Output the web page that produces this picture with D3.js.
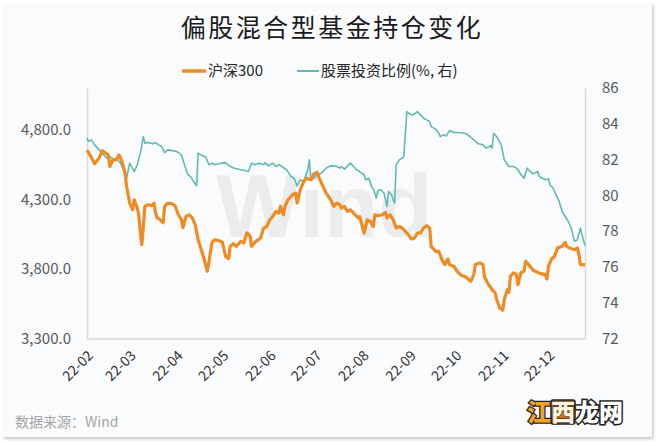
<!DOCTYPE html>
<html><head><meta charset="utf-8">
<script src="https://cdn.jsdelivr.net/npm/d3@7/dist/d3.min.js"></script>
<style>
html,body{margin:0;padding:0;background:#ffffff;}
svg{display:block;}
</style></head>
<body>
<svg id="c" width="660" height="444"></svg>
<script>
// ---------- data ----------
const hs300Dates = ["01-31","02-03","02-05","02-08","02-10","02-12","02-14","02-15","02-17","02-19","02-21","02-23","02-25","02-26","02-28",
"03-02","03-03","03-05","03-06","03-07","03-08","03-09","03-10","03-12","03-15","03-16","03-17","03-18","03-20","03-22","03-23","03-25","03-28","03-30",
"04-01","04-03","04-04","04-06","04-08","04-10","04-12","04-14","04-16","04-18","04-20","04-21","04-23","04-25","04-29","04-30",
"05-02","05-04","05-05","05-07","05-09","05-12","05-14","05-16","05-18","05-19","05-22","05-25","05-27","05-29","05-31",
"06-02","06-04","06-06","06-07","06-09","06-10","06-12","06-15","06-17","06-18","06-20","06-22","06-24","06-27","06-29",
"07-01","07-03","07-05","07-07","07-10","07-12","07-14","07-16","07-17","07-19","07-21","07-23","07-26","07-28","07-29",
"08-01","08-03","08-05","08-07","08-08","08-10","08-13","08-15","08-16","08-18","08-20","08-22","08-24","08-26","08-28","08-30",
"09-01","09-03","09-05","09-07","09-09","09-11","09-13","09-14","09-17","09-19","09-21","09-23","09-25","09-26","09-29",
"10-01","10-04","10-06","10-10","10-12","10-13","10-16","10-18","10-19","10-21","10-24","10-26","10-27","10-29","10-31",
"11-01","11-03","11-04","11-05","11-07","11-09","11-10","11-12","11-14","11-15","11-18","11-20","11-23","11-25","11-28","11-29","11-30",
"12-02","12-04","12-06","12-09","12-11","12-12","12-14","12-17","12-19","12-20","12-21","12-24"];
const hs300Values = [4655,4598,4555,4598,4650,4634,4619,4536,4584,4584,4619,4571,4490,4392,4275,
4225,4297,4239,4189,4060,3974,4105,4249,4261,4254,4273,4204,4168,4153,4132,4249,4273,4268,4249,
4189,4153,4096,4177,4189,4168,4118,4010,3938,3867,3783,3845,3988,4010,3998,3988,
3890,3874,3962,3981,3962,3998,3988,4058,4039,3962,3998,4022,4094,4105,4153,
4177,4213,4201,4249,4189,4249,4297,4333,4345,4273,4368,4421,4452,4440,4483,
4493,4440,4392,4345,4297,4249,4273,4261,4237,4249,4213,4225,4189,4166,4177,
4058,4153,4141,4105,4189,4182,4189,4206,4166,4189,4153,4094,4105,4094,4069,4046,
4015,4022,4058,4058,4094,4110,4094,3962,3926,3926,3867,3831,3872,3831,3818,
3783,3752,3747,3711,3759,3831,3843,3831,3747,3699,3651,3628,3580,3520,3503,
3580,3651,3632,3747,3771,3759,3687,3775,3783,3854,3818,3790,3775,3766,3759,3728,3818,
3872,3890,3950,3962,3991,3962,3950,3938,3950,3902,3831,3831];

const stockDates = ["01-31","02-01","02-03","02-05","02-08","02-11","02-13","02-15","02-18","02-20","02-22","02-24","02-26","02-28",
"03-03","03-05","03-07","03-09","03-10","03-12","03-15","03-17","03-19","03-21","03-23","03-25","03-28","03-31",
"04-03","04-05","04-07","04-09","04-11","04-13","04-14","04-16","04-19","04-21","04-23","04-25","04-29",
"05-02","05-05","05-08","05-12","05-15","05-17","05-19","05-21","05-24","05-27","05-28","05-30",
"06-02","06-04","06-06","06-08","06-11","06-14","06-16","06-18","06-20","06-22","06-23","06-25","06-26","06-27","06-29",
"07-01","07-03","07-05","07-07","07-10","07-12","07-14","07-16","07-17","07-19","07-23","07-25","07-27","07-29",
"08-01","08-02","08-04","08-06","08-07","08-09","08-10","08-12","08-14","08-15","08-16","08-17","08-19","08-20","08-21","08-22","08-24","08-26","08-27","08-29","08-31",
"09-02","09-05","09-07","09-09","09-11","09-13","09-14","09-17","09-19","09-20","09-22","09-24","09-26","09-29",
"10-02","10-06","10-08","10-12","10-15","10-18","10-20","10-23","10-24","10-25","10-27","10-30",
"11-01","11-04","11-07","11-09","11-10","11-12","11-14","11-16","11-18","11-20","11-23","11-24","11-28","11-30",
"12-01","12-03","12-05","12-07","12-09","12-11","12-13","12-15","12-17","12-19","12-21","12-22","12-24"];
const stockValues = [83.20,83.01,83.10,82.82,82.54,82.26,82.08,82.17,81.98,82.02,81.80,81.43,80.96,81.80,
81.33,81.71,82.36,83.28,82.92,82.95,82.88,82.95,82.82,82.73,82.39,82.54,82.50,82.45,
82.26,81.71,81.20,81.05,80.77,80.53,82.36,82.26,82.14,81.71,81.80,81.71,81.80,
81.83,81.61,81.52,81.43,81.39,81.33,81.80,81.71,81.80,81.71,81.83,81.65,
81.80,81.61,81.71,81.61,81.43,81.05,80.96,80.53,80.87,80.77,80.96,81.43,81.98,80.87,80.96,
81.15,81.20,81.33,81.52,81.65,81.65,81.61,81.52,81.61,81.47,81.80,81.61,81.43,81.33,
81.15,80.87,80.96,80.46,80.35,79.85,80.27,80.31,80.13,79.75,79.38,80.22,80.03,79.75,79.57,81.71,81.98,82.08,82.17,84.68,84.55,
84.49,84.68,84.49,84.31,84.22,84.12,83.84,83.70,83.47,83.28,83.38,83.32,83.62,83.51,
83.51,83.47,83.38,83.10,82.88,82.82,82.64,82.77,82.64,83.47,83.28,82.82,
81.98,81.61,81.61,81.52,81.43,81.15,80.96,81.52,81.33,81.20,81.33,81.05,80.87,80.91,
80.59,80.41,80.03,79.66,79.10,78.82,78.54,78.17,77.43,77.52,78.17,77.80,77.19];

const xTickLabels = ["22-02","22-03","22-04","22-05","22-06","22-07","22-08","22-09","22-10","22-11","22-12"];
const leftTicks = [3300,3800,4300,4800];
const rightTicks = [72,74,76,78,80,82,84,86];
const dateRange = ["2022-01-31","2022-12-24"];
const leftDomain = [3300,5100];
const rightDomain = [72,86];

const titleText = "偏股混合型基金持仓变化";
const seriesNames = ["沪深300","股票投资比例(%, 右)"];
const sourceText = "数据来源：Wind";

// ---------- drawing ----------
const svg = d3.select("#c");
const FONT = "'Noto Sans CJK SC','Noto Sans',sans-serif";
const ORANGE = "#f08a22", TEAL = "#5fbab3";

const defs = svg.append("defs");
const f = defs.append("filter").attr("id","sh").attr("x","-5%").attr("y","-5%").attr("width","110%").attr("height","110%");
f.append("feDropShadow").attr("dx",1.5).attr("dy",2).attr("stdDeviation",1.5).attr("flood-color","#000").attr("flood-opacity",0.22);

svg.append("rect").attr("x",3).attr("y",3).attr("width",649).attr("height",434)
  .attr("fill","#fafbfd").attr("filter","url(#sh)");

const m = {left:87, right:585, top:88, bottom:338.5};
const parseMD = d3.timeParse("%Y-%m-%d");
const toDate = s => parseMD("2022-" + s);
const x = d3.scaleTime().domain(dateRange.map(d=>parseMD(d))).range([m.left, m.right]);
const yL = d3.scaleLinear().domain(leftDomain).range([m.bottom, m.top]);
const yR = d3.scaleLinear().domain(rightDomain).range([m.bottom, m.top]);

// watermark
svg.append("text").attr("x",216).attr("y",237).text("Wind")
  .attr("font-family","'Liberation Sans',Arial,sans-serif").attr("font-weight","bold")
  .attr("font-size",89).attr("fill","#ebecee");

// title
svg.append("text").attr("x",332).attr("y",37).attr("text-anchor","middle")
  .attr("font-family",FONT).attr("font-size",25).attr("letter-spacing",2.5).attr("fill","#1a1a1a").text(titleText);

// legend
const lg = svg.append("g").attr("font-family",FONT).attr("font-size",15).attr("fill","#262626");
lg.append("line").attr("x1",182).attr("x2",206).attr("y1",71).attr("y2",71).attr("stroke",ORANGE).attr("stroke-width",3.5);
lg.append("text").attr("x",208).attr("y",76).text(seriesNames[0]);
lg.append("line").attr("x1",297).attr("x2",319).attr("y1",71).attr("y2",71).attr("stroke",TEAL).attr("stroke-width",2);
lg.append("text").attr("x",321).attr("y",76).text(seriesNames[1]);

// axes
const gx = svg.append("g").attr("transform",`translate(0,${m.bottom})`)
  .call(d3.axisBottom(x).tickValues(xTickLabels.map(d3.timeParse("%y-%m"))).tickFormat(d3.timeFormat("%y-%m")).tickSize(0));
gx.select(".domain").attr("stroke","#d9d9d9").attr("stroke-width",1.5);
gx.selectAll("text").attr("font-family",FONT).attr("font-size",14).attr("fill","#333")
  .attr("text-anchor","end").attr("dy",0).attr("y",0)
  .attr("transform","translate(5,18) rotate(-45)");

const gl = svg.append("g").attr("transform",`translate(${m.left},0)`)
  .call(d3.axisLeft(yL).tickValues(leftTicks).tickFormat(d3.format(",.1f")).tickSize(0).tickPadding(16));
gl.select(".domain").attr("stroke","#d9d9d9").attr("stroke-width",1.5);
gl.selectAll("text").attr("font-family",FONT).attr("font-size",15).attr("fill","#595959");

const gr = svg.append("g").attr("transform",`translate(${m.right},0)`)
  .call(d3.axisRight(yR).tickValues(rightTicks).tickSize(0).tickPadding(17));
gr.select(".domain").attr("stroke","#d9d9d9").attr("stroke-width",1.5);
gr.selectAll("text").attr("font-family",FONT).attr("font-size",15).attr("fill","#595959");

// lines
const stockData = stockDates.map((d,i)=>({d:toDate(d), v:stockValues[i]}));
const hsData = hs300Dates.map((d,i)=>({d:toDate(d), v:hs300Values[i]}));
svg.append("path").datum(stockData).attr("fill","none").attr("stroke",TEAL).attr("stroke-width",1.6)
  .attr("stroke-linejoin","round").attr("d",d3.line().x(p=>x(p.d)).y(p=>yR(p.v)));
svg.append("path").datum(hsData).attr("fill","none").attr("stroke",ORANGE).attr("stroke-width",3.2)
  .attr("stroke-linejoin","round").attr("d",d3.line().x(p=>x(p.d)).y(p=>yL(p.v)));

// source
svg.append("text").attr("x",15).attr("y",427).attr("font-family",FONT).attr("font-size",14)
  .attr("fill","#a6a6a6").text(sourceText);

// site logo
const logo = svg.append("g").attr("font-family",FONT).attr("font-weight",900).attr("font-size",24);
logo.append("rect").attr("x",551).attr("y",400).attr("width",24).attr("height",24).attr("rx",2).attr("fill","#c8741a").attr("stroke","#222").attr("stroke-width",1.5);
logo.append("text").attr("x",527).attr("y",421).text("江").attr("fill","#f4a32a").attr("stroke","#222").attr("stroke-width",2.5).attr("paint-order","stroke");
logo.append("text").attr("x",551).attr("y",421).text("西").attr("fill","#fff4e0").attr("stroke","#222").attr("stroke-width",1).attr("paint-order","stroke");
logo.append("text").attr("x",575).attr("y",421).text("龙网").attr("fill","#ffffff").attr("stroke","#222").attr("stroke-width",3).attr("paint-order","stroke");
</script>
</body></html>
